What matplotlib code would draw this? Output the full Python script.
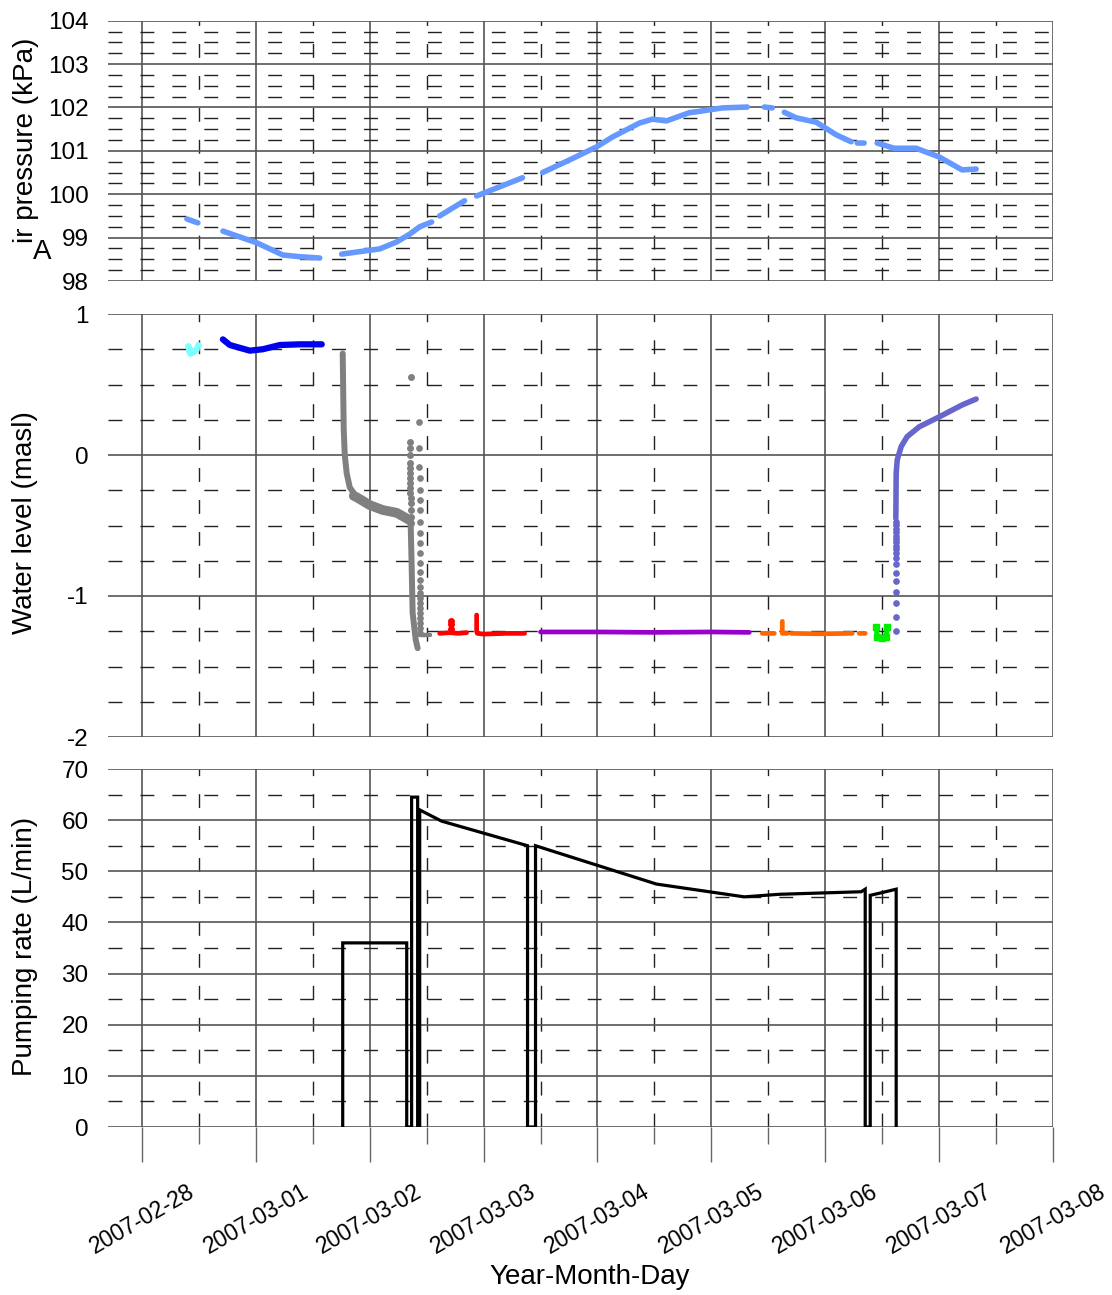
import numpy as np
import matplotlib
matplotlib.use("Agg")
import matplotlib.pyplot as plt
import matplotlib.dates as mdates
from matplotlib.ticker import MultipleLocator, FixedLocator

plt.rcParams['font.family'] = ['Liberation Sans', 'DejaVu Sans']
plt.rcParams['axes.unicode_minus'] = False

# ---------------------------------------------------------------------------
# Data: time is given as elapsed days since 2007-02-28 00:00
# (np.nan in a value list breaks the line into separate logged segments)
# ---------------------------------------------------------------------------
START = np.datetime64("2007-02-28T00:00")

pressure_days = [0.395, 0.491, 0.491,
                 0.711, 1.009, 1.237, 1.386, 1.561, 1.561,
                 1.754, 2.088, 2.237, 2.351, 2.439, 2.544, 2.544,
                 2.614, 2.833, 2.833,
                 2.939, 3.140, 3.342, 3.342,
                 3.518, 3.754, 3.991, 4.132, 4.368, 4.482, 4.605, 4.807, 4.868,
                 5.096, 5.316, 5.316,
                 5.465, 5.535, 5.535,
                 5.640, 5.746, 5.921, 6.096, 6.228, 6.228,
                 6.281, 6.342, 6.342,
                 6.456, 6.518, 6.605, 6.798, 7.000, 7.202, 7.325]
pressure_kpa = [99.43, 99.34, np.nan,
                99.15, 98.88, 98.60, 98.56, 98.53, np.nan,
                98.62, 98.74, 98.90, 99.08, 99.25, 99.36, np.nan,
                99.50, 99.85, np.nan,
                99.96, 100.17, 100.38, np.nan,
                100.50, 100.79, 101.09, 101.32, 101.64, 101.73, 101.69, 101.88, 101.90,
                101.99, 102.01, np.nan,
                102.01, 101.99, np.nan,
                101.89, 101.76, 101.66, 101.37, 101.21, np.nan,
                101.18, 101.18, np.nan,
                101.18, 101.13, 101.06, 101.06, 100.86, 100.56, 100.58]

# Water level, one list pair per logger file
cyan_days = [0.404, 0.412, 0.421, 0.430, 0.439, 0.456, 0.474, 0.491]
cyan_level = [0.77, 0.735, 0.72, 0.745, 0.73, 0.735, 0.75, 0.78]

blue_days = [0.711, 0.772, 0.947, 1.061, 1.211, 1.386, 1.579]
blue_level = [0.82, 0.78, 0.74, 0.75, 0.78, 0.785, 0.785]

gray_days = [1.763, 1.768, 1.772, 1.781, 1.798, 1.825, 1.886, 2.000, 2.114,
             2.237, 2.325, 2.351, 2.360, 2.368, 2.377, 2.404, 2.421]
gray_level = [0.72, 0.41, 0.18, 0.0, -0.13, -0.23, -0.30, -0.355, -0.39,
              -0.41, -0.45, -0.46, -0.50, -0.77, -1.12, -1.31, -1.37]

# noisy stretch of the recovery record, drawn as a wider band
gray_band_days = [1.860, 1.886, 2.000, 2.114, 2.237, 2.325, 2.345]
gray_band_level = [-0.29, -0.30, -0.355, -0.39, -0.41, -0.45, -0.46]

gray_dots1_days = [2.360, 2.355, 2.355, 2.356, 2.356, 2.357, 2.357, 2.357,
                   2.358, 2.358, 2.358, 2.359, 2.359, 2.359, 2.360, 2.360]
gray_dots1_level = [0.55, 0.094, 0.047, 0.0, -0.059, -0.094, -0.130, -0.165,
                    -0.201, -0.236, -0.272, -0.307, -0.343, -0.390, -0.437, -0.484]

gray_dots2_days = [2.436, 2.437, 2.437, 2.438, 2.438, 2.438, 2.439, 2.439,
                   2.439, 2.440, 2.440, 2.440, 2.441, 2.441, 2.441, 2.442,
                   2.442, 2.442, 2.443, 2.443, 2.443, 2.444, 2.444, 2.445]
gray_dots2_level = [0.236, 0.047, -0.083, -0.165, -0.248, -0.319, -0.390, -0.473,
                    -0.555, -0.626, -0.697, -0.768, -0.827, -0.886, -0.934, -0.981,
                    -1.016, -1.051, -1.087, -1.122, -1.158, -1.193, -1.229, -1.264]
gray_tail_days = [2.445, 2.526]
gray_tail_level = [-1.28, -1.28]

red_days = [2.614, 2.700, 2.780, 2.851, 2.851,
            2.939, 2.939, 2.939, 2.939, 2.939, 2.945, 3.000, 3.200, 3.360]
red_level = [-1.265, -1.26, -1.265, -1.26, np.nan,
             -1.135, -1.16, -1.19, -1.22, -1.25, -1.265, -1.27, -1.265, -1.265]
red_spike_days = [2.711, 2.711, 2.711]
red_spike_level = [-1.18, -1.20, -1.235]

purple_days = [3.500, 4.000, 4.500, 5.000, 5.333]
purple_level = [-1.255, -1.255, -1.258, -1.255, -1.258]

orange_days = [5.447, 5.553, 5.553,
               5.623, 5.623, 5.623, 5.623, 5.667, 5.667,
               5.702, 5.947, 6.237, 6.237,
               6.298, 6.351]
orange_level = [-1.265, -1.265, np.nan,
                -1.18, -1.21, -1.24, -1.265, -1.265, np.nan,
                -1.265, -1.268, -1.265, np.nan,
                -1.265, -1.265]

green_days = [6.447, 6.456, 6.500, 6.535, 6.544]
green_level = [-1.22, -1.29, -1.30, -1.29, -1.22]

slate_dots_days = [6.617, 6.617, 6.618, 6.618, 6.618, 6.618, 6.619, 6.619, 6.619,
                   6.619, 6.619, 6.620, 6.620, 6.620, 6.620, 6.620, 6.620, 6.620]
slate_dots_level = [-1.246, -1.147, -1.052, -0.970, -0.894, -0.835, -0.775, -0.733,
                    -0.697, -0.667, -0.643, -0.619, -0.596, -0.572, -0.548, -0.525,
                    -0.496, -0.473]
slate_days = [6.620, 6.623, 6.632, 6.667, 6.719, 6.825, 7.000, 7.202, 7.325]
slate_level = [-0.45, -0.13, -0.035, 0.06, 0.13, 0.20, 0.27, 0.355, 0.397]

pump_days = [1.763, 1.763, 2.325, 2.325, 2.368, 2.368, 2.421, 2.421, 2.439, 2.439,
             2.632, 3.386, 3.386, 3.456, 3.456, 4.518, 5.289, 5.596, 6.316, 6.351,
             6.351, 6.395, 6.395, 6.474, 6.623, 6.623]
pump_rate = [0, 36, 36, 0, 0, 64.5, 64.5, 0, 0, 62,
             59.8, 55, 0, 0, 55, 47.5, 45, 45.5, 46, 46.5,
             0, 0, 45.3, 45.7, 46.5, 0]

pressure_ticks = [98, 99, 100, 101, 102, 103, 104]
level_ticks = [-2, -1, 0, 1]
pump_ticks = [0, 10, 20, 30, 40, 50, 60, 70]


def t(days):
    """Elapsed days -> matplotlib date numbers."""
    return mdates.date2num(START) + np.asarray(days, dtype=float)


# ---------------------------------------------------------------------------
W, H = 1112, 1295
fig = plt.figure(figsize=(W / 100, H / 100), dpi=100)


def rect(x0, y0, x1, y1):
    return [x0 / W, 1 - y1 / H, (x1 - x0) / W, (y1 - y0) / H]


ax1 = fig.add_axes(rect(108, 20.7, 1053, 281))
ax2 = fig.add_axes(rect(108, 314, 1053, 737))
ax3 = fig.add_axes(rect(108, 769, 1053, 1127))

xmin = t(-0.298)
xmax = t(8.0)

for ax, ticks, minor in ((ax1, pressure_ticks, 0.25),
                         (ax2, level_ticks, 0.25),
                         (ax3, pump_ticks, 5)):
    ax.set_xlim(xmin, xmax)
    ax.set_ylim(ticks[0], ticks[-1])
    ax.yaxis.set_major_locator(FixedLocator(ticks))
    ax.yaxis.set_minor_locator(MultipleLocator(minor))
    ax.xaxis.set_major_locator(mdates.DayLocator())
    ax.xaxis.set_minor_locator(mdates.HourLocator(byhour=[12]))
    ax.xaxis.set_major_formatter(mdates.DateFormatter('%Y-%m-%d'))
    for s in ax.spines.values():
        s.set_visible(False)
    ax.set_axisbelow(True)
    ax.grid(which='major', color='#555555', linewidth=1.2, linestyle='-')
    ax.grid(which='minor', color='#222222', linewidth=1.0, linestyle=(0, (10, 13)))
    ax.tick_params(axis='y', which='both', length=0, pad=14, labelsize=17.5)
    ax.set_yticks(ticks)
    ax.set_yticklabels([str(v) for v in ticks])

for ax in (ax1, ax2):
    ax.tick_params(axis='x', which='both', length=0, labelbottom=False)

ax3.tick_params(axis='x', which='major', length=25, width=1.0, color='#666666',
                direction='out', labelsize=16.5, pad=13)
ax3.tick_params(axis='x', which='minor', length=12, width=1.0, color='#666666',
                direction='out')
for lab in ax3.get_xticklabels():
    lab.set_rotation(30)
    lab.set_ha('center')

# --- Air pressure ---
ax1.plot(t(pressure_days), pressure_kpa, color='#6699FF', lw=4.0,
         solid_capstyle='round', solid_joinstyle='round')

# --- Water level ---
ax2.plot(t(cyan_days), cyan_level, color='#80FFFF', lw=3.2, marker='o', ms=3.8,
         solid_joinstyle='round')
ax2.plot(t(blue_days), blue_level, color='#0000EE', lw=4.5,
         solid_capstyle='round', solid_joinstyle='round')
ax2.plot(t(gray_days), gray_level, color='#808080', lw=4.3,
         solid_capstyle='round', solid_joinstyle='round')
ax2.plot(t(gray_band_days), gray_band_level, color='#808080', lw=7.0,
         solid_capstyle='round', solid_joinstyle='round')
ax2.plot(t(gray_dots1_days), gray_dots1_level, 'o', color='#808080', ms=4.0)
ax2.plot(t(gray_dots2_days), gray_dots2_level, 'o', color='#808080', ms=3.8)
ax2.plot(t(gray_tail_days), gray_tail_level, color='#808080', lw=3.2,
         solid_capstyle='round')
ax2.plot(t(red_days), red_level, color='#FF0000', lw=3.4,
         solid_capstyle='round', solid_joinstyle='round')
ax2.plot(t(red_spike_days), red_spike_level, 'o', color='#FF0000', ms=4.0)
ax2.plot(t(purple_days), purple_level, color='#9900CC', lw=3.4,
         solid_capstyle='round')
ax2.plot(t(orange_days), orange_level, color='#FF6600', lw=3.4,
         solid_capstyle='round', solid_joinstyle='round')
ax2.plot(t(green_days), green_level, color='#00EE00', lw=3.6, marker='s', ms=4.0,
         solid_joinstyle='round')
ax2.plot(t(slate_dots_days), slate_dots_level, 'o', color='#6666CC', ms=3.8)
ax2.plot(t(slate_days), slate_level, color='#6666CC', lw=4.0,
         solid_capstyle='round', solid_joinstyle='round')

# --- Pumping rate ---
ax3.plot(t(pump_days), pump_rate, color='black', lw=2.3, solid_joinstyle='miter')

# --- Axis titles ---
fs = 20
fig.text(26 / W, 1 - 140 / H, "ir pressure (kPa)", rotation=90,
         ha='center', va='center', fontsize=fs)
fig.text(42 / W, 1 - 252 / H, "A", ha='center', va='center', fontsize=fs)
fig.text(25 / W, 1 - 523 / H, "Water level (masl)", rotation=90,
         ha='center', va='center', fontsize=fs)
fig.text(25 / W, 1 - 946 / H, "Pumping rate (L/min)", rotation=90,
         ha='center', va='center', fontsize=fs)
fig.text(590 / W, 1 - 1277 / H, "Year-Month-Day", ha='center', va='center',
         fontsize=fs)

fig.savefig("out.png", dpi=100)
